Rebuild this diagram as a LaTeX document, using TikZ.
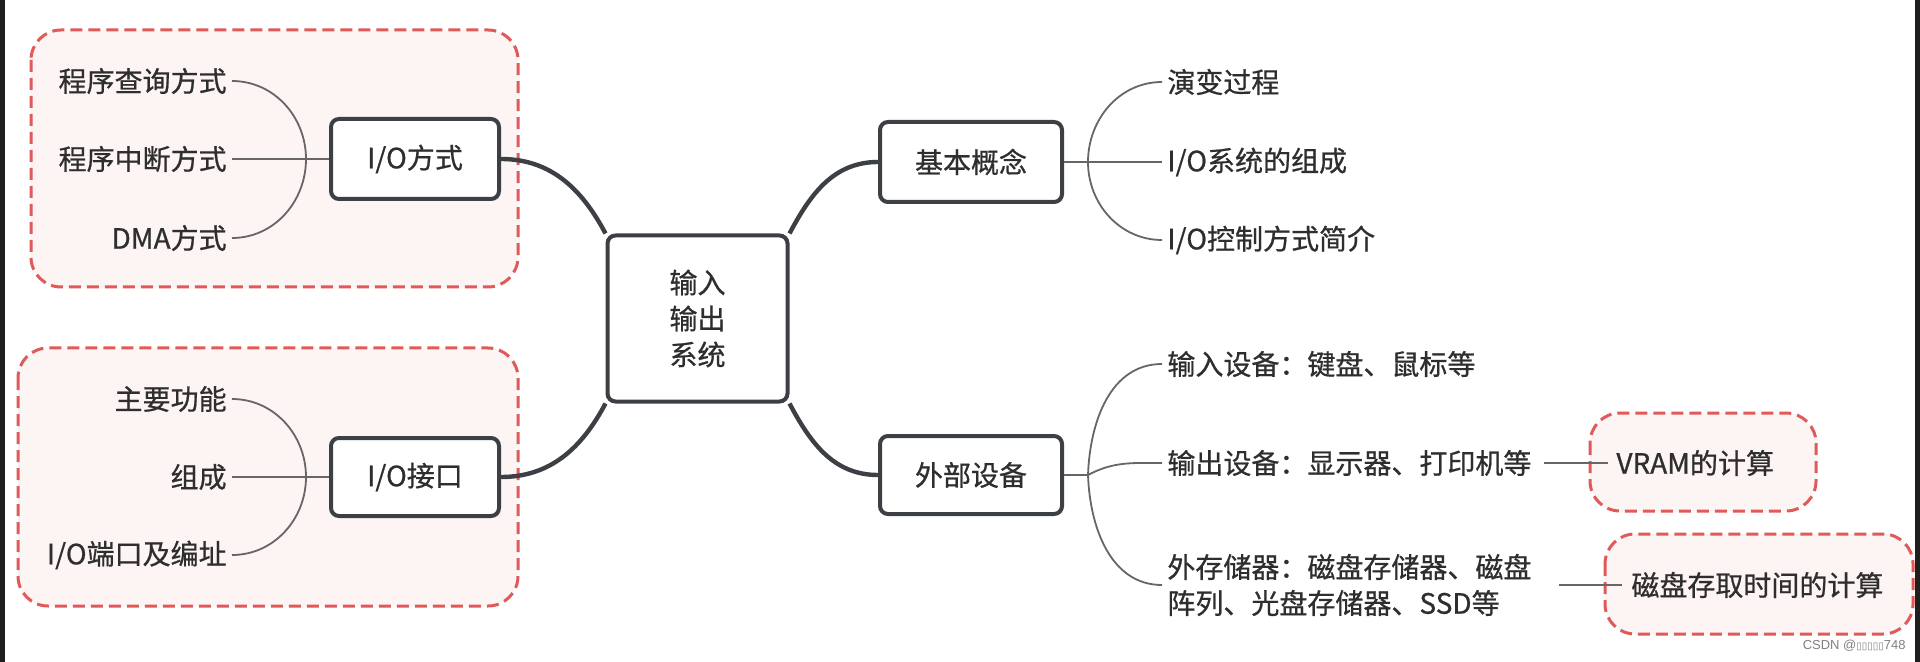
\documentclass[tikz,border=0pt]{standalone}
\usepackage{fontspec}
\setmainfont[FakeBold=0.7]{Noto Sans CJK SC}
\newfontfamily\wmfont{Liberation Sans}
\newfontfamily\symfont{DejaVu Sans}
\definecolor{txt}{HTML}{2E2E2E}
\definecolor{boxc}{HTML}{3C4044}
\definecolor{thinc}{HTML}{666666}
\definecolor{dashc}{HTML}{E05A5A}
\definecolor{grpfill}{HTML}{FDF4F4}
\begin{document}
\begin{tikzpicture}[x=0.5pt,y=-0.5pt,
  every node/.style={text=txt, font=\fontsize{14}{18}\selectfont},
  mainbox/.style={draw=boxc, line width=2pt, rounded corners=4pt, fill=white,
    minimum width=84pt, minimum height=40pt, inner sep=0pt},
  leafL/.style={anchor=east, inner xsep=2.5pt, inner ysep=0pt},
  leafR/.style={anchor=west, inner xsep=2.5pt, inner ysep=0pt},
  thickline/.style={draw=boxc, line width=2.2pt},
  thinline/.style={draw=thinc, line width=0.9pt},
  group/.style={draw=dashc, line width=1.5pt, dash pattern=on 6pt off 3pt,
    fill=grpfill, rounded corners=15pt}
]
\useasboundingbox (0,0) rectangle (1920,662);
\fill[white] (0,0) rectangle (1920,662);
\fill[black!88] (0,0) rectangle (5,662);
\fill[black!88] (1915,0) rectangle (1920,662);

% group boxes
\draw[group] (31,30) rectangle (518,287);
\draw[group] (18,348) rectangle (518,606);
\draw[group] (1590,413) rectangle (1816,511);
\draw[group] (1605,534) rectangle (1913,634);

% main boxes
\node[mainbox, minimum width=90pt, minimum height=83pt, align=center] (ctr) at (697.5,318.5) {输入\\输出\\系统};
\node[mainbox] (iofs) at (415,159) {I/O方式};
\node[mainbox, minimum height=39pt] (iojk) at (415,477) {I/O接口};
\node[mainbox, minimum width=91pt] (jbgn) at (971,162) {基本概念};
\node[mainbox, minimum width=91pt, minimum height=39pt] (wbsb) at (971,475) {外部设备};

% thick connectors
\draw[thickline] (iofs.east) to[out=0,in=118] (ctr.north west);
\draw[thickline] (iojk.east) to[out=0,in=242] (ctr.south west);
\draw[thickline] (ctr.north east) to[out=62,in=180] (jbgn.west);
\draw[thickline] (ctr.south east) to[out=-62,in=180] (wbsb.west);

% left group 1
\node[leafL] (a1) at (232,81) {程序查询方式};
\node[leafL] (a2) at (232,159) {程序中断方式};
\node[leafL] (a3) at (232,238) {DMA方式};
\coordinate (ja) at (306,159);
\draw[thinline] (iofs.west) -- (ja);
\draw[thinline] (ja) to[out=90,in=0] (a1.east);
\draw[thinline] (ja) -- (a2.east);
\draw[thinline] (ja) to[out=-90,in=0] (a3.east);

% left group 2
\node[leafL] (d1) at (232,399) {主要功能};
\node[leafL] (d2) at (232,477) {组成};
\node[leafL] (d3) at (232,555) {I/O端口及编址};
\coordinate (jd) at (306,477);
\draw[thinline] (iojk.west) -- (jd);
\draw[thinline] (jd) to[out=90,in=0] (d1.east);
\draw[thinline] (jd) -- (d2.east);
\draw[thinline] (jd) to[out=-90,in=0] (d3.east);

% right group 1
\node[leafR] (b1) at (1162,82) {演变过程};
\node[leafR] (b2) at (1162,162) {I/O系统的组成};
\node[leafR] (b3) at (1162,240) {I/O控制方式简介};
\coordinate (jb) at (1088,162);
\draw[thinline] (jbgn.east) -- (jb);
\draw[thinline] (jb) to[out=90,in=180] (b1.west);
\draw[thinline] (jb) -- (b2.west);
\draw[thinline] (jb) to[out=-90,in=180] (b3.west);

% right group 2
\node[leafR] (c1) at (1162,364) {输入设备：键盘、鼠标等};
\node[leafR] (c2) at (1162,463) {输出设备：显示器、打印机等};
\node[leafR, align=left] (c3) at (1162,585) {外存储器：磁盘存储器、磁盘\\阵列、光盘存储器、SSD等};
\coordinate (jc) at (1088,475);
\draw[thinline] (wbsb.east) -- (jc);
\draw[thinline] (jc) to[out=88,in=180] (c1.west);
\draw[thinline] (jc) to[out=28,in=180] (c2.west);
\draw[thinline] (jc) to[out=-88,in=180] (c3.west);

% sub nodes
\node[anchor=west, inner xsep=4pt] (vr) at (1608,463) {VRAM的计算};
\node[anchor=west, inner xsep=4.5pt] (dk) at (1622,585) {磁盘存取时间的计算};
\draw[thinline, shorten <=3.5pt] (c2.east) -- (vr.west);
\draw[thinline, shorten <=11pt] (c3.east) -- (dk.west);

% watermark
\node[anchor=east, inner sep=0pt, text=black!50, font=\wmfont\fontsize{6.5}{8}\selectfont] (wm) at (1906,646) {CSDN @{\symfont\fontsize{5}{8}\selectfont ▯▯▯▯▯}748};
\end{tikzpicture}
\end{document}
